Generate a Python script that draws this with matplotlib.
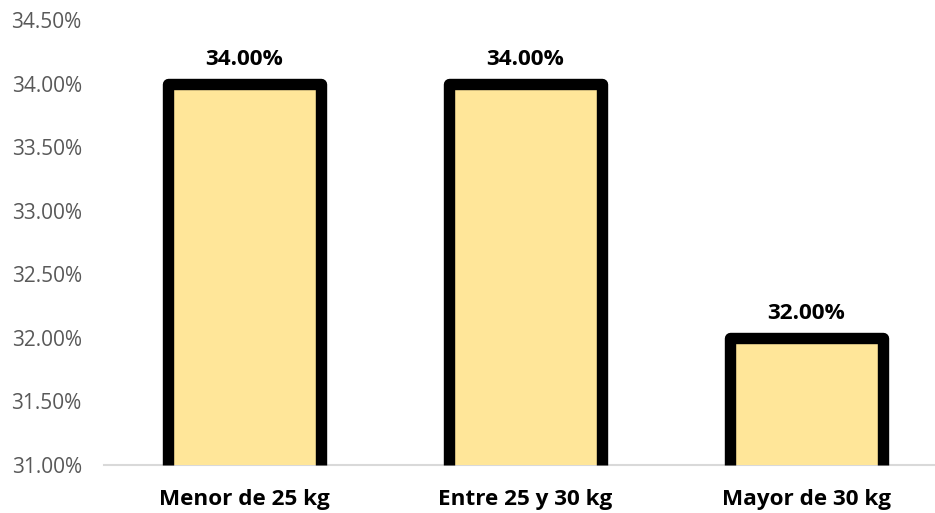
import matplotlib.pyplot as plt
from matplotlib.ticker import FuncFormatter

categorias = ['Menor de 25 kg', 'Entre 25 y 30 kg', 'Mayor de 30 kg']
porcentajes = [34.00, 34.00, 32.00]
marcas_y = [31.0, 31.5, 32.0, 32.5, 33.0, 33.5, 34.0, 34.5]

plt.rcParams['font.family'] = ['Open Sans', 'DejaVu Sans']

fig = plt.figure(figsize=(9.35, 5.13), dpi=100)
# el eje se sale un poco por la derecha, igual que en la hoja original
ax = fig.add_axes([104 / 935, 48 / 513, 843 / 935, 445 / 513])

base = marcas_y[0]
x = range(len(categorias))
alturas = [p - base for p in porcentajes]
barras = ax.bar(x, alturas, bottom=base, width=0.545, color='#FFE699',
                edgecolor='none', zorder=2)

# borde negro grueso solo en los lados y arriba (abajo queda el eje)
for b in barras:
    x0, y0 = b.get_x(), b.get_y()
    w, h = b.get_width(), b.get_height()
    ax.plot([x0, x0, x0 + w, x0 + w], [y0, y0 + h, y0 + h, y0],
            color='black', linewidth=8.2, solid_joinstyle='round',
            solid_capstyle='butt', zorder=3, clip_on=False)

for i, p in enumerate(porcentajes):
    ax.annotate(f'{p:.2f}%', (i, p), xytext=(0, 10), textcoords='offset points',
                ha='center', va='bottom', fontsize=16.2, fontweight='bold',
                color='black')

ax.set_ylim(marcas_y[0], marcas_y[-1])
ax.set_xlim(-0.5, len(categorias) - 0.5)
ax.set_yticks(marcas_y)
ax.yaxis.set_major_formatter(FuncFormatter(lambda v, _: f'{v:.2f}%'))
ax.set_xticks(list(x))
ax.set_xticklabels(categorias, fontsize=16.2, fontweight='bold', color='black')

ax.tick_params(axis='y', length=0, pad=16, labelsize=15, labelcolor='#595959')
ax.tick_params(axis='x', length=0, pad=17.5)

for lado in ['top', 'right', 'left']:
    ax.spines[lado].set_visible(False)
ax.spines['bottom'].set_color('#D9D9D9')
ax.spines['bottom'].set_linewidth(1.5)
ax.spines['bottom'].set_zorder(1)

fig.savefig('out.png', dpi=100)
